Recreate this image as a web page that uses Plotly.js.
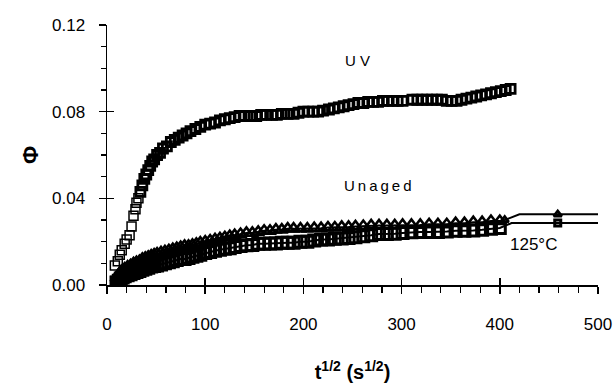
<!DOCTYPE html>
<html>
<head>
<meta charset="utf-8">
<script src="https://cdn.plot.ly/plotly-3.0.1.min.js"></script>
<style>
html,body{margin:0;padding:0;background:#fff;}
#chart{width:615px;height:387px;}
</style>
</head>
<body>
<div id="chart"></div>
<script>
// UV aged series (open squares)
const uvT = [8, 8, 11, 13, 15, 18, 20, 23, 25, 27, 29, 30, 32, 34, 36, 38, 40, 42, 44, 46, 48, 51, 54, 57, 61, 65, 69, 73, 77, 81, 85, 90, 95, 100, 105, 110, 115, 120, 125, 130, 135, 140, 146, 152, 157, 162, 168, 173, 178, 184, 190, 195, 200, 205, 210, 215, 220, 226, 231, 236, 241, 246, 251, 256, 261, 266, 271, 276, 281, 286, 291, 296, 301, 311, 316, 321, 326, 331, 336, 341, 346, 351, 356, 361, 366, 371, 376, 381, 386, 391, 396, 401, 406, 411];
const uvPhi = [0.002, 0.009, 0.011, 0.014, 0.016, 0.019, 0.021, 0.023, 0.027, 0.032, 0.035, 0.038, 0.040, 0.043, 0.046, 0.049, 0.051, 0.053, 0.055, 0.057, 0.058, 0.060, 0.061, 0.063, 0.064, 0.066, 0.067, 0.068, 0.069, 0.070, 0.071, 0.072, 0.073, 0.074, 0.0745, 0.075, 0.076, 0.0765, 0.077, 0.0775, 0.078, 0.078, 0.078, 0.078, 0.0785, 0.0785, 0.0785, 0.0785, 0.079, 0.079, 0.079, 0.0795, 0.080, 0.080, 0.080, 0.080, 0.0805, 0.081, 0.0815, 0.082, 0.0825, 0.083, 0.0835, 0.084, 0.084, 0.0845, 0.0845, 0.0845, 0.085, 0.085, 0.085, 0.085, 0.085, 0.0855, 0.0855, 0.0855, 0.0855, 0.0855, 0.0855, 0.0855, 0.085, 0.085, 0.085, 0.0855, 0.086, 0.0865, 0.087, 0.0875, 0.088, 0.0885, 0.089, 0.0895, 0.090, 0.0905];

// Unaged series (open triangles)
const unT = [10, 12, 14, 16, 18, 21, 24, 27, 30, 33, 36, 39, 42, 45, 48, 51, 55, 59, 63, 67, 71, 75, 79, 83, 87, 91, 95, 100, 105, 110, 115, 120, 125, 130, 136, 142, 148, 154, 160, 166, 172, 178, 184, 190, 197, 204, 211, 218, 225, 232, 239, 246, 253, 261, 269, 277, 285, 293, 301, 310, 319, 328, 337, 346, 355, 364, 373, 382, 391, 400, 405, 420, 459, 505];
const unPhi = [0.003, 0.005, 0.006, 0.007, 0.0075, 0.0085, 0.009, 0.010, 0.0105, 0.011, 0.012, 0.0125, 0.013, 0.0135, 0.014, 0.0145, 0.015, 0.0155, 0.016, 0.0165, 0.017, 0.0175, 0.018, 0.018, 0.0185, 0.019, 0.0195, 0.020, 0.0205, 0.021, 0.0215, 0.022, 0.0225, 0.023, 0.0235, 0.024, 0.024, 0.0245, 0.025, 0.025, 0.0255, 0.0255, 0.026, 0.026, 0.026, 0.026, 0.0262, 0.0262, 0.0265, 0.0265, 0.0268, 0.0268, 0.027, 0.0272, 0.0275, 0.0275, 0.0275, 0.0275, 0.0277, 0.0277, 0.0277, 0.028, 0.028, 0.028, 0.0285, 0.0285, 0.029, 0.029, 0.0295, 0.0295, 0.030, 0.0326, 0.0326, 0.0326];

// 125 °C aged series (open squares)
const hotT = [10, 12, 14, 16, 18, 21, 24, 27, 30, 33, 36, 39, 42, 45, 48, 51, 55, 59, 63, 67, 71, 75, 79, 83, 87, 91, 95, 100, 105, 110, 115, 120, 125, 130, 136, 142, 148, 154, 160, 166, 172, 178, 184, 190, 197, 204, 211, 218, 225, 232, 239, 246, 253, 261, 269, 277, 285, 293, 301, 310, 319, 328, 337, 346, 355, 364, 373, 382, 391, 400, 412, 459, 507];
const hotPhi = [0.001, 0.002, 0.003, 0.0035, 0.004, 0.0045, 0.005, 0.0055, 0.006, 0.0065, 0.007, 0.0075, 0.008, 0.0085, 0.0088, 0.009, 0.0095, 0.010, 0.0105, 0.011, 0.0115, 0.012, 0.012, 0.0125, 0.013, 0.0135, 0.014, 0.0148, 0.0152, 0.0158, 0.0163, 0.0167, 0.017, 0.0175, 0.018, 0.0183, 0.0185, 0.019, 0.019, 0.0192, 0.0192, 0.0195, 0.0195, 0.0195, 0.020, 0.020, 0.0205, 0.021, 0.021, 0.0213, 0.0215, 0.0217, 0.022, 0.0225, 0.023, 0.0235, 0.0235, 0.0237, 0.024, 0.0243, 0.0245, 0.0245, 0.0245, 0.0247, 0.025, 0.025, 0.0252, 0.0255, 0.026, 0.0263, 0.0286, 0.0286, 0.0286];

const labels = [
  {text: "U V", t: 255, phi: 0.1038, size: 15},
  {text: "U\u2009n\u2009a\u2009g\u2009e\u2009d", t: 276, phi: 0.0457, size: 15},
  {text: "125°C", t: 434, phi: 0.0185, size: 17}
];

const FONT = "Liberation Sans, Arial, Helvetica, sans-serif";

// heavier outline where the reference points pile up into a solid band
const uvLineW = uvT.map(t => (t < 33 ? 1.5 : 2.8));
const unSize = unT.map(t => (t > 404 ? 7 : 11));
const hotSize = hotT.map(t => (t > 404 ? 6 : 11));
const hotMarkerOp = hotT.map(t => (t > 404 && t !== 459 ? 0 : 1));
const unMarkerOp = unT.map(t => (t > 406 && t !== 459 ? 0 : 1));

const traces = [
  {x: hotT, y: hotPhi, type: "scatter", mode: "lines+markers", cliponaxis: true,
   line: {color: "#000", width: 2},
   marker: {symbol: "square-open", size: hotSize, opacity: hotMarkerOp, color: "#000", line: {width: 3, color: "#000"}}},
  {x: unT, y: unPhi, type: "scatter", mode: "lines+markers", cliponaxis: true,
   line: {color: "#000", width: 2},
   marker: {symbol: "triangle-up-open", size: unSize, opacity: unMarkerOp, color: "#000", line: {width: 2.6, color: "#000"}}},
  {x: uvT, y: uvPhi, type: "scatter", mode: "markers", cliponaxis: true,
   marker: {symbol: "square-open", size: 9, color: "#000", line: {width: uvLineW, color: "#000"}}},
  // invisible trace on overlay axes so the inner half of the major ticks is drawn
  {x: [0], y: [0], xaxis: "x2", yaxis: "y2", type: "scatter", mode: "markers",
   marker: {opacity: 0}, hoverinfo: "skip"}
];

const layout = {
  width: 615, height: 387,
  margin: {l: 107, r: 17, t: 25, b: 102},
  paper_bgcolor: "#fff", plot_bgcolor: "#fff",
  showlegend: false,
  font: {family: FONT, color: "#000", size: 16},
  xaxis: {
    range: [0, 500], dtick: 100, tick0: 0,
    showgrid: false, zeroline: false,
    showline: true, linecolor: "#000", linewidth: 1.5,
    ticks: "outside", ticklen: 7, tickwidth: 1.5, tickcolor: "#000",
    ticklabelstandoff: 16,
    minor: {ticks: "outside", ticklen: 6, tickwidth: 1.2, tickcolor: "#000", dtick: 20, showgrid: false},
    tickfont: {family: FONT, size: 17, color: "#000"},
    title: {text: "<b>t<sup>1/2</sup> (s<sup>1/2</sup>)</b>", font: {family: FONT, size: 20, color: "#000"}, standoff: 32}
  },
  yaxis: {
    range: [0, 0.12], dtick: 0.04, tick0: 0, tickformat: ".2f",
    showgrid: false, zeroline: false,
    showline: true, linecolor: "#000", linewidth: 1.5,
    ticks: "outside", ticklen: 7, tickwidth: 1.5, tickcolor: "#000",
    ticklabelstandoff: 10,
    minor: {ticks: "outside", ticklen: 5, tickwidth: 1.2, tickcolor: "#000", dtick: 0.01, showgrid: false},
    tickfont: {family: FONT, size: 17, color: "#000"},
    title: {text: "<b>Φ</b>", font: {family: FONT, size: 22, color: "#000"}, standoff: 7}
  },
  xaxis2: {
    overlaying: "x", anchor: "y2", side: "bottom", range: [0, 500], dtick: 100, tick0: 0,
    showgrid: false, zeroline: false, showline: false, showticklabels: false,
    ticks: "inside", ticklen: 7, tickwidth: 1.5, tickcolor: "#000"
  },
  yaxis2: {
    overlaying: "y", anchor: "x2", side: "left", range: [0, 0.12], dtick: 0.04, tick0: 0,
    showgrid: false, zeroline: false, showline: false, showticklabels: false,
    ticks: "inside", ticklen: 7, tickwidth: 1.5, tickcolor: "#000"
  },
  annotations: labels.map(l => ({
    x: l.t, y: l.phi, xref: "x", yref: "y", text: l.text, showarrow: false,
    font: {family: FONT, size: l.size, color: "#000"}, xanchor: "center", yanchor: "middle"
  }))
};

Plotly.newPlot("chart", traces, layout, {staticPlot: true, displayModeBar: false});
</script>
</body>
</html>
